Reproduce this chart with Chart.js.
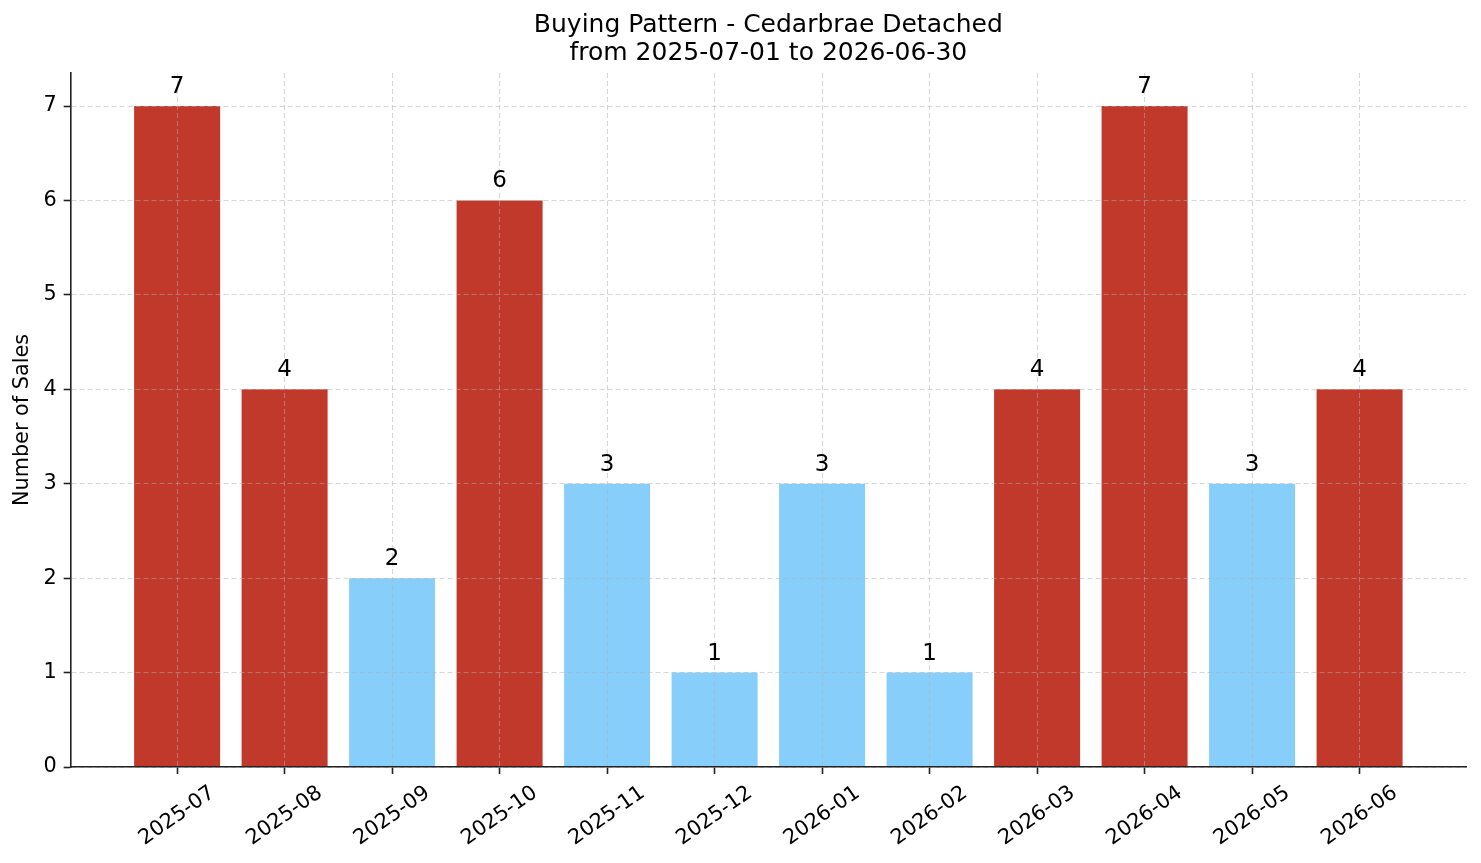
<!DOCTYPE html>
<html>
<head>
<meta charset="utf-8">
<script src="https://cdn.jsdelivr.net/npm/chart.js@4.4.1/dist/chart.umd.min.js"></script>
<style>
  html, body { margin: 0; padding: 0; background: #fff; }
  #wrap { width: 1481px; height: 863px; }
</style>
</head>
<body>
<div id="wrap"><canvas id="buyingChart"></canvas></div>
<script>
const months = ["2025-07", "2025-08", "2025-09", "2025-10", "2025-11", "2025-12",
                "2026-01", "2026-02", "2026-03", "2026-04", "2026-05", "2026-06"];
const sales = [7, 4, 2, 6, 3, 1, 3, 1, 4, 7, 3, 4];
const yTicks = [0, 1, 2, 3, 4, 5, 6, 7];
const titleLines = ["Buying Pattern - Cedarbrae Detached", "from 2025-07-01 to 2026-06-30"];

const highColor = "#c0392b";
const lowColor = "#87cefa";
const avg = sales.reduce((a, b) => a + b, 0) / sales.length;

Chart.defaults.font.family = "'DejaVu Sans', sans-serif";
Chart.defaults.color = "#000";

// title centred over the plot area (matplotlib style)
const axesTitle = {
  id: "axesTitle",
  afterDraw(chart) {
    const ctx = chart.ctx;
    const area = chart.chartArea;
    const cx = (area.left + area.right) / 2;
    ctx.save();
    ctx.font = "25px 'DejaVu Sans'";
    ctx.fillStyle = "#000";
    ctx.textAlign = "center";
    ctx.textBaseline = "middle";
    titleLines.forEach((t, i) => ctx.fillText(t, cx, 25 + i * 28));
    ctx.restore();
  }
};

// value above every bar
const barLabels = {
  id: "barLabels",
  afterDraw(chart) {
    const ctx = chart.ctx;
    const meta = chart.getDatasetMeta(0);
    ctx.save();
    ctx.font = "23px 'DejaVu Sans'";
    ctx.fillStyle = "#000";
    ctx.textAlign = "center";
    ctx.textBaseline = "alphabetic";
    meta.data.forEach((bar, i) => {
      ctx.fillText(String(sales[i]), bar.x, bar.y - 13);
    });
    ctx.restore();
  }
};

// rotated month labels, centred under each tick like matplotlib
const monthLabels = {
  id: "monthLabels",
  afterDraw(chart) {
    const ctx = chart.ctx;
    const xs = chart.scales.x;
    const top = chart.chartArea.bottom + 14;
    const ang = 35 * Math.PI / 180;
    const size = 20.8;
    ctx.save();
    ctx.font = size + "px 'DejaVu Sans'";
    ctx.fillStyle = "#000";
    ctx.textAlign = "center";
    ctx.textBaseline = "middle";
    months.forEach((m, i) => {
      const w = ctx.measureText(m).width;
      const h = size * 1.164;
      const boxH = w * Math.sin(ang) + h * Math.cos(ang);
      ctx.save();
      ctx.translate(xs.getPixelForValue(i), top + boxH / 2);
      ctx.rotate(-ang);
      ctx.fillText(m, 0, 0);
      ctx.restore();
    });
    ctx.restore();
  }
};

const chartData = {
  datasets: [{
    label: "Sales",
    data: sales.map((v, i) => ({ x: i, y: v })),
    backgroundColor: sales.map(v => v > avg ? highColor : lowColor),
    borderWidth: 0,
    barPercentage: 0.8,
    categoryPercentage: 1.0
  }]
};

const gridOpts = {
  color: "rgba(176,176,176,0.5)",
  lineWidth: 1,
  z: 1,
  drawTicks: true,
  tickLength: 7,
  tickColor: "#222",
  tickWidth: 1.6,
  tickBorderDash: []
};

new Chart(document.getElementById("buyingChart"), {
  type: "bar",
  data: chartData,
  options: {
    responsive: true,
    maintainAspectRatio: false,
    animation: false,
    layout: { padding: { left: 10.5, right: 15, top: 73, bottom: 89 } },
    plugins: {
      legend: { display: false },
      tooltip: { enabled: false },
      title: { display: false }
    },
    scales: {
      x: {
        type: "linear",
        min: -0.99,
        max: 11.99,
        offset: false,
        afterBuildTicks: (axis) => { axis.ticks = months.map((m, i) => ({ value: i })); },
        ticks: { display: false },
        grid: Object.assign({ offset: false }, gridOpts),
        border: { display: true, color: "#222", width: 1.6, dash: [5, 3], z: 2 }
      },
      y: {
        min: 0,
        max: 7.35,
        afterBuildTicks: (axis) => { axis.ticks = yTicks.map(v => ({ value: v })); },
        ticks: { font: { size: 20.8 }, padding: 7, color: "#000" },
        grid: gridOpts,
        border: { display: true, color: "#222", width: 1.6, dash: [5, 3], z: 2 },
        title: {
          display: true,
          text: "Number of Sales",
          color: "#000",
          font: { size: 20.8, lineHeight: 1.2 },
          padding: { top: 0, bottom: 1 }
        }
      }
    }
  },
  plugins: [axesTitle, barLabels, monthLabels]
});
</script>
</body>
</html>
